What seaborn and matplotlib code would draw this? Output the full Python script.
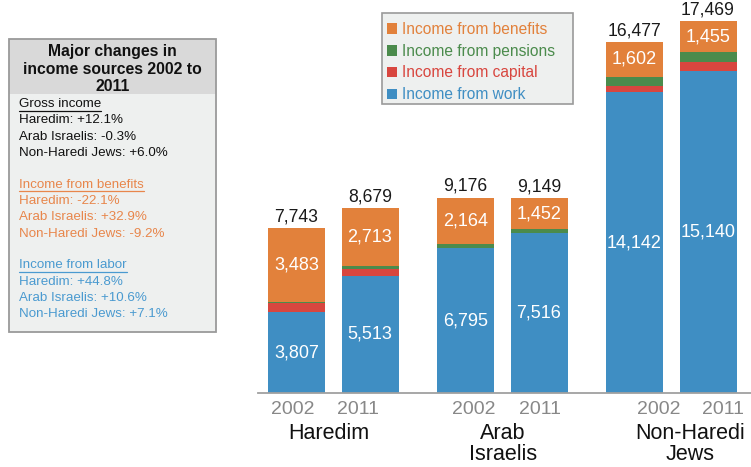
"""Income sources by population group, 2002 vs 2011 - stacked bars + side note box."""
import pandas as pd
import matplotlib.pyplot as plt
import seaborn as sns
from matplotlib.patches import Rectangle, Patch
from matplotlib.lines import Line2D

# data (NIS per month)
groups = ["Haredim", "Arab\nIsraelis", "Non-Haredi\nJews"]
years = ["2002", "2011"]
work = [3807, 5513, 6795, 7516, 14142, 15140]
capital = [410, 320, 30, 20, 270, 410]
pensions = [43, 133, 187, 161, 463, 464]
benefits = [3483, 2713, 2164, 1452, 1602, 1455]
totals = [7743, 8679, 9176, 9149, 16477, 17469]

series = ["Income from benefits", "Income from pensions", "Income from capital", "Income from work"]
colors = ["#E2813B", "#4B8B4C", "#D8463F", "#3F8EC3"]

note_title = "Major changes in\nincome sources 2002 to\n2011"
note_blocks = [
    ("Gross income", ["Haredim: +12.1%", "Arab Israelis: -0.3%", "Non-Haredi Jews: +6.0%"], "#111111"),
    ("Income from benefits", ["Haredim: -22.1%", "Arab Israelis: +32.9%", "Non-Haredi Jews: -9.2%"], "#E8864B"),
    ("Income from labor", ["Haredim: +44.8%", "Arab Israelis: +10.6%", "Non-Haredi Jews: +7.1%"], "#4A9AD0"),
]

W, H = 751, 467
sns.set_theme(style="white")
plt.rcParams["font.family"] = ["Liberation Sans", "DejaVu Sans"]


def fx(x):
    return x / W


def fy(y):
    return 1 - y / H


def box(x0, y0, x1, y1, **kw):
    # rectangle given in pixel corners (top-left origin)
    return Rectangle((fx(x0), fy(y1)), (x1 - x0) / W, (y1 - y0) / H,
                     transform=fig.transFigure, **kw)


# layout (pixels)
first_center, year_step, group_step = 296.5, 73.5, 169
bar_px = 57
base_px = 393
units_per_px = 47.0

df = pd.DataFrame({
    "group": [g for g in groups for _ in years],
    "year": years * len(groups),
    "work": work, "capital": capital, "pensions": pensions, "benefits": benefits,
    "total": totals,
})
df["pos"] = [first_center + gi * group_step + yi * year_step
             for gi in range(len(groups)) for yi in range(len(years))]
df["c_work"] = df["work"]
df["c_capital"] = df["c_work"] + df["capital"]
df["c_pensions"] = df["c_capital"] + df["pensions"]
df["c_benefits"] = df["c_pensions"] + df["benefits"]

fig = plt.figure(figsize=(W / 100, H / 100), dpi=100)
ax = fig.add_axes([fx(258), fy(base_px), (W - 258) / W, base_px / H])

for col, color in zip(["c_benefits", "c_pensions", "c_capital", "c_work"], colors):
    sns.barplot(data=df, x="pos", y=col, color=color, saturation=1, native_scale=True,
                width=bar_px / year_step, linewidth=0, errorbar=None, ax=ax)

ax.set_xlim(258, W)
ax.set_ylim(0, base_px * units_per_px)
ax.set_xlabel("")
ax.set_ylabel("")
ax.set_yticks([])
for s in ["top", "right", "left"]:
    ax.spines[s].set_visible(False)
ax.spines["bottom"].set_color("#a0a0a0")
ax.spines["bottom"].set_linewidth(1.3)

# year tick labels sit a little off the bar centres in the original
year_label_x = [293, 358, 474, 540, 659, 723]
ax.set_xticks(year_label_x)
ax.set_xticklabels(df["year"], color="#888888", fontsize=14)
ax.tick_params(axis="x", length=0, pad=6)

# values
for _, r in df.iterrows():
    ax.text(r["pos"], r["c_work"] / 2, f"{r['work']:,}", ha="center", va="center",
            color="white", fontsize=13)
    ax.text(r["pos"], r["c_benefits"] - r["benefits"] / 2, f"{r['benefits']:,}",
            ha="center", va="center", color="white", fontsize=13)
    ax.text(r["pos"], r["c_benefits"] + 3 * units_per_px, f"{r['total']:,}",
            ha="center", va="bottom", color="#1a1a1a", fontsize=12.7)

# group labels
group_label_x = [329, 503, 690]
for gx, g in zip(group_label_x, groups):
    fig.text(fx(gx), fy(423), g, ha="center", va="top", fontsize=15.5,
             linespacing=0.98, color="#111111")

# legend (frame drawn by hand so it can be as wide as the original)
fig.patches.append(box(382, 13, 573, 104, facecolor="#eef0ef", edgecolor="#9a9a9a",
                       linewidth=1.2, zorder=0))
handles = [Patch(facecolor=c, edgecolor="none") for c in colors]
fig.legend(handles, series, loc="upper left", bbox_to_anchor=(fx(384), fy(19)),
           frameon=False, fontsize=11.2, labelcolor=colors,
           handlelength=0.65, handleheight=0.65, handletextpad=0.3,
           labelspacing=0.43, borderpad=0.2, borderaxespad=0)

# note box on the left
fig.patches.append(box(9, 39, 216, 332, facecolor="#eef0ef", edgecolor="none", zorder=0))
fig.patches.append(box(9, 39, 216, 94, facecolor="#d9d9d9", edgecolor="none", zorder=0))
fig.patches.append(box(9, 39, 216, 332, facecolor="none", edgecolor="#9a9a9a",
                       linewidth=1.3, zorder=1))
fig.text(fx(112.5), fy(69), note_title, ha="center", va="center", fontsize=11.3,
         fontweight="bold", linespacing=1.2, color="#111111")

line_h = 16.4
y = 104
headers = []
for head, lines, color in note_blocks:
    t = fig.text(fx(19), fy(y), head, ha="left", va="center", fontsize=9.6, color=color)
    headers.append((t, y, color))
    for i, line in enumerate(lines):
        fig.text(fx(19), fy(y + (i + 1) * line_h), line, ha="left", va="center",
                 fontsize=9.6, color=color)
    y += 4 * line_h + 15

# underline the block headers
fig.canvas.draw()
renderer = fig.canvas.get_renderer()
for t, yy, color in headers:
    bb = t.get_window_extent(renderer)
    fig.add_artist(Line2D([bb.x0 / W, bb.x1 / W], [fy(yy + 6.5), fy(yy + 6.5)],
                          transform=fig.transFigure, color=color, linewidth=0.9))

fig.savefig("out.png", dpi=100)
plt.close(fig)
